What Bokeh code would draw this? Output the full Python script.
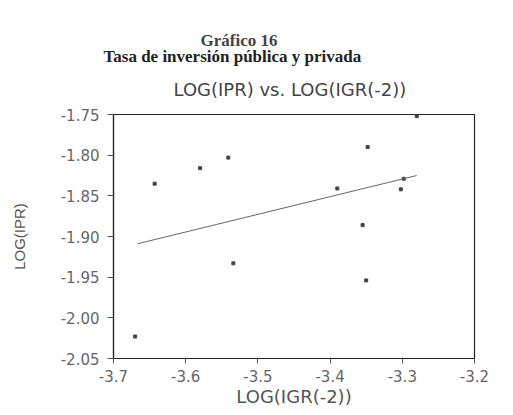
from bokeh.plotting import figure
from bokeh.models import Title, FixedTicker, Range1d
from bokeh.embed import file_html
from bokeh.resources import INLINE

# data
igr = [-3.670, -3.643, -3.580, -3.541, -3.534, -3.390, -3.348, -3.355, -3.350, -3.298, -3.302, -3.280]
ipr = [-2.023, -1.835, -1.816, -1.803, -1.933, -1.841, -1.790, -1.886, -1.954, -1.829, -1.842, -1.752]
fit_x = [-3.667, -3.280]
fit_y = [-1.909, -1.825]
x_ticks = [-3.7, -3.6, -3.5, -3.4, -3.3, -3.2]
y_ticks = [-1.75, -1.80, -1.85, -1.90, -1.95, -2.00, -2.05]
x_tick_labels = {-3.7: "-3.7", -3.6: "-3.6", -3.5: "-3.5", -3.4: "-3.4", -3.3: "-3.3", -3.2: "-3.2"}
y_tick_labels = {-1.75: "-1.75", -1.80: "-1.80", -1.85: "-1.85", -1.90: "-1.90", -1.95: "-1.95", -2.00: "-2.00", -2.05: "-2.05"}

W, H = 513, 415
p = figure(width=W, height=H, output_backend="svg", toolbar_location=None,
           x_range=Range1d(-3.7, -3.2), y_range=Range1d(-2.05, -1.75),
           min_border_left=113, min_border_right=39, min_border_top=114, min_border_bottom=57,
           title=None)
p.border_fill_color = "white"
p.background_fill_color = "white"
p.outline_line_color = "#222222"
p.outline_line_width = 1.2
p.grid.visible = False

# titles: first added sits closest to the frame
p.add_layout(Title(text="LOG(IPR) vs. LOG(IGR(-2))", align="left", offset=60,
                   text_font="DejaVu Sans", text_font_size="18px", text_font_style="normal",
                   text_color="#444444", standoff=30, text_line_height=0.85), "above")
p.add_layout(Title(text="Tasa de inversión pública y privada", align="left", offset=-10,
                   text_font="Liberation Serif", text_font_size="17px", text_font_style="bold",
                   text_color="#222222", standoff=-8, text_line_height=0.75), "above")
p.add_layout(Title(text="Gráfico 16", align="left", offset=87,
                   text_font="Liberation Serif", text_font_size="17px", text_font_style="bold",
                   text_color="#444444", standoff=-2), "above")

p.xaxis.ticker = FixedTicker(ticks=x_ticks)
p.yaxis.ticker = FixedTicker(ticks=y_ticks)
p.xaxis.major_label_overrides = x_tick_labels
p.yaxis.major_label_overrides = y_tick_labels
for ax in (p.xaxis, p.yaxis):
    ax.axis_line_color = "#222222"
    ax.axis_line_width = 1.2
    ax.major_tick_line_color = "#555555"
    ax.major_tick_in = 0
    ax.minor_tick_line_color = None
    ax.major_label_text_font = "DejaVu Sans"
    ax.major_label_text_font_size = "15px"
    ax.major_label_text_color = "#666666"
    ax.axis_label_text_font = "DejaVu Sans"
    ax.axis_label_text_font_style = "normal"
    ax.axis_label_text_color = "#555555"
p.yaxis.major_tick_out = 6
p.xaxis.major_tick_out = 5
p.yaxis.major_label_standoff = 8
p.xaxis.major_label_standoff = 6
p.xaxis.axis_label = "LOG(IGR(-2))"
p.xaxis.axis_label_text_font_size = "18px"
p.xaxis.axis_label_standoff = 1
p.yaxis.axis_label = "LOG(IPR)"
p.yaxis.axis_label_text_font = "Liberation Sans"
p.yaxis.axis_label_text_font_size = "15px"
p.yaxis.axis_label_standoff = 30

p.scatter(igr, ipr, size=3, color="#444444", marker="square")
p.line(fit_x, fit_y, line_color="#666666", line_width=1)

open("out.html", "w").write(file_html(p, INLINE))
